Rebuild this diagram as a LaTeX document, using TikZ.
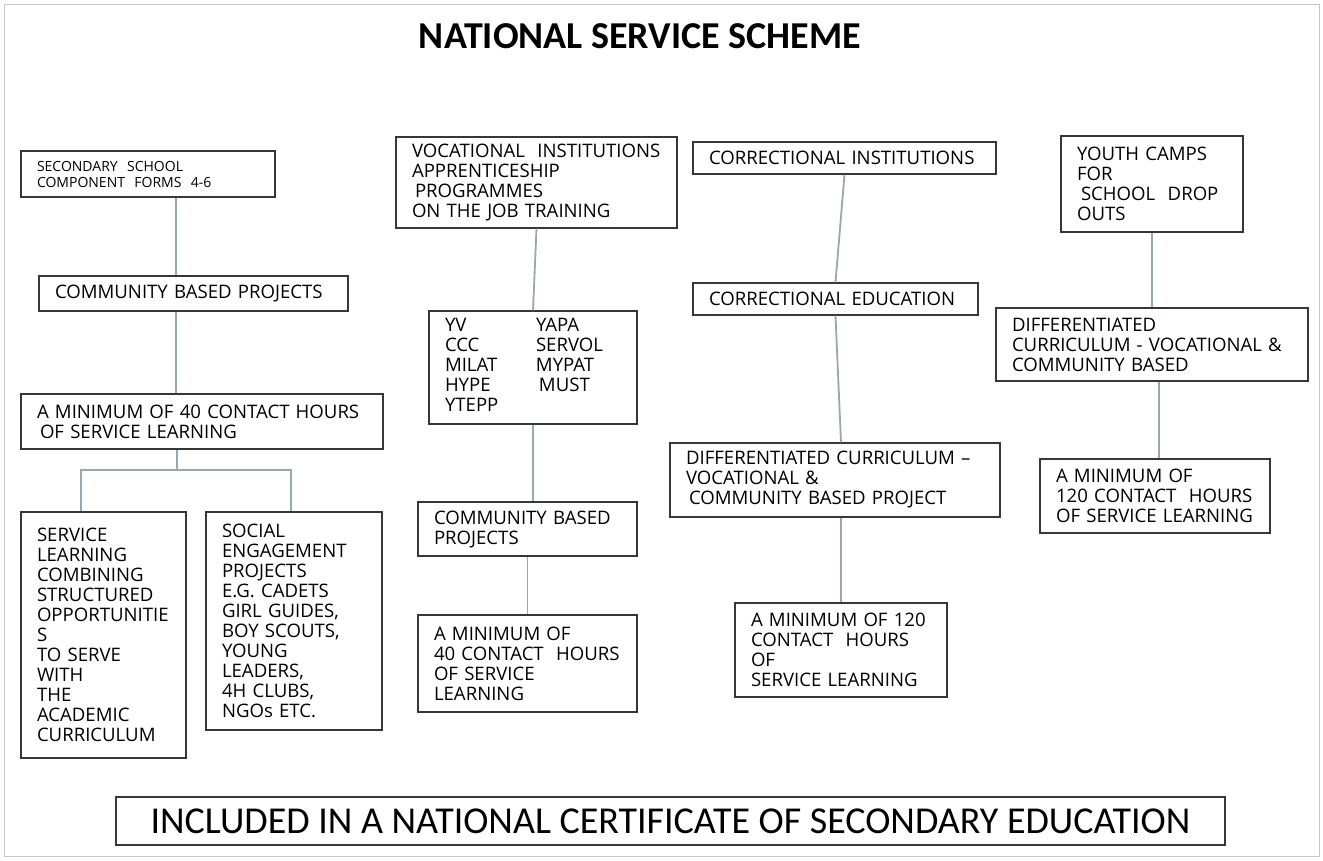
\documentclass[tikz,border=0pt]{standalone}
\usepackage{fontspec}
\setmainfont{Open Sans}
\newfontfamily\calfont{Carlito}
\usepackage{tikz}
\usetikzlibrary{positioning, calc}
\definecolor{linkblue}{RGB}{150,168,184}
\definecolor{boxgray}{RGB}{55,55,55}

\begin{document}
\begin{tikzpicture}[x=1pt, y=-1pt,
  box/.style={draw=boxgray, line width=1.3pt, rectangle, align=left,
    inner xsep=16pt, inner ysep=0pt, font=\fontsize{18.6}{20}\selectfont},
  link/.style={draw=linkblue, line width=1.8pt}]

  \useasboundingbox (0,0) rectangle (1323,860);
  % Frame and title
  \draw[gray!45, line width=1pt] (4,4) rectangle (1319,856);
  \node[font=\calfont\bfseries\fontsize{38}{40}\selectfont] (title) at (640,36)
    {NATIONAL SERVICE SCHEME};

  % --- Secondary school column ---
  \node[box, text width=222pt, minimum height=46pt, font=\fontsize{14}{16}\selectfont]
    (sec) at (148,174) {SECONDARY\ \ SCHOOL\\COMPONENT\ \ FORMS\ \ 4-6};
  \node[box, text width=277pt, minimum height=35pt] (cbpA) at (193.5,293.5)
    {COMMUNITY BASED PROJECTS};
  \node[box, text width=330pt, minimum height=55pt] (minA) at (202,421.5)
    {A MINIMUM OF 40 CONTACT HOURS\\\hspace*{3pt}OF SERVICE LEARNING};
  \node[box, text width=133pt, minimum height=246pt] (servl) at (103.5,635)
    {SERVICE\\LEARNING\\COMBINING\\STRUCTURED\\OPPORTUNITIE\\S\\TO SERVE\\WITH\\THE\\ACADEMIC\\CURRICULUM};
  \node[box, text width=144pt, minimum height=218pt] (social) at (294,621)
    {SOCIAL\\ENGAGEMENT\\PROJECTS\\E.G. CADETS\\GIRL GUIDES,\\BOY SCOUTS,\\YOUNG\\LEADERS,\\4H CLUBS,\\NGOs ETC.};

  % --- Vocational column ---
  \node[box, text width=249pt, minimum height=91pt] (voc) at (536.5,182.5)
    {VOCATIONAL\ \ INSTITUTIONS\\APPRENTICESHIP\\\hspace*{3pt}PROGRAMMES\\ON THE JOB TRAINING};
  \node[box, text width=176pt, minimum height=113pt] (yv) at (533,367.5)
    {\begin{tabular}{@{}p{91pt}@{}l@{}}
      YV & YAPA\\ CCC & SERVOL\\ MILAT & MYPAT\\ HYPE & \hspace*{3pt}MUST\\ YTEPP &
    \end{tabular}};
  \node[box, text width=187pt, minimum height=54pt] (cbpB) at (527.5,529)
    {COMMUNITY BASED\\PROJECTS};
  \node[box, text width=187pt, minimum height=97pt] (minB) at (527.5,663.5)
    {A MINIMUM OF\\40 CONTACT\ \ HOURS\\OF SERVICE\\LEARNING};

  % --- Correctional column ---
  \node[box, text width=271pt, minimum height=32pt] (corri) at (844.5,158)
    {CORRECTIONAL INSTITUTIONS};
  \node[box, text width=253pt, minimum height=32pt] (corre) at (835.5,299)
    {CORRECTIONAL EDUCATION};
  \node[box, text width=298pt, minimum height=74pt] (diffc) at (835,480)
    {DIFFERENTIATED CURRICULUM --\\VOCATIONAL \&\\\hspace*{3pt}COMMUNITY BASED PROJECT};
  \node[box, text width=180pt, minimum height=94pt] (minC) at (841,650)
    {A MINIMUM OF 120\\CONTACT\ \ HOURS\\OF\\SERVICE LEARNING};

  % --- Youth camps column ---
  \node[box, text width=150pt, minimum height=96pt] (youth) at (1152,184)
    {YOUTH CAMPS\\FOR\\\hspace*{4pt}SCHOOL\ \ DROP\\OUTS};
  \node[box, text width=280pt, minimum height=73pt] (diffD) at (1152,344.5)
    {DIFFERENTIATED\\CURRICULUM - VOCATIONAL \&\\COMMUNITY BASED};
  \node[box, text width=198pt, minimum height=74pt] (minD) at (1155,496)
    {A MINIMUM OF\\120 CONTACT\ \ HOURS\\OF SERVICE LEARNING};

  % Certificate
  \node[draw=boxgray, line width=1.3pt, minimum width=1109pt, minimum height=48pt,
    inner sep=0pt, font=\calfont\fontsize{38}{40}\selectfont] (cert) at (670.5,821)
    {INCLUDED IN A NATIONAL CERTIFICATE OF SECONDARY EDUCATION};

  % Connectors
  \draw[link] ([xshift=28pt]sec.south) -- ([xshift=-17.5pt]cbpA.north);
  \draw[link] ([xshift=-17.5pt]cbpA.south) -- ([xshift=-26pt]minA.north);
  \coordinate (split) at (177,470);
  \draw[link] (minA.south -| split) -- (split);
  \draw[link] ([xshift=-22.5pt]servl.north) |- (split) -| ([xshift=-3pt]social.north);
  \draw[link] (voc.south) -- (yv.north);
  \draw[link] (yv.south) -- (yv.south |- cbpB.north);
  \draw[link] (cbpB.south) -- (minB.north);
  \draw[link] (corri.south) -- (corre.north);
  \draw[link] (corre.south) -- ([xshift=6pt]diffc.north);
  \draw[link] ([xshift=6pt]diffc.south) -- (minC.north);
  \draw[link] (youth.south) -- (diffD.north);
  \draw[link] ([xshift=7pt]diffD.south) -- ([xshift=4pt]minD.north);
\end{tikzpicture}
\end{document}
